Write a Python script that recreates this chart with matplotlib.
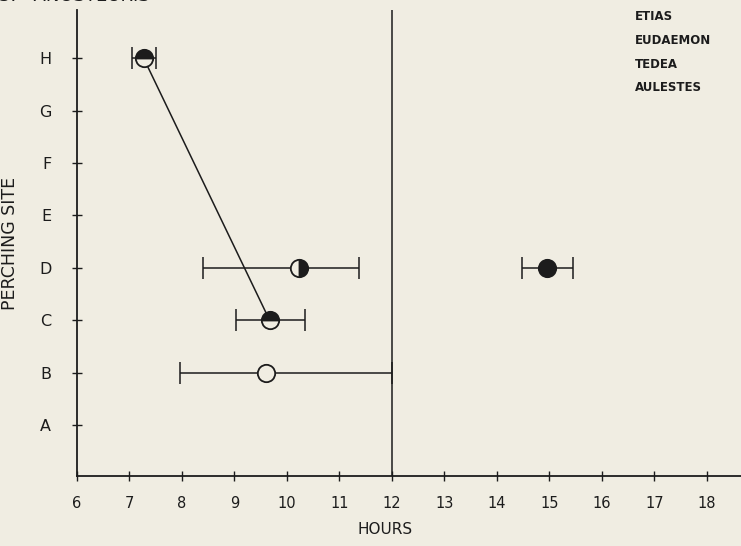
import matplotlib.pyplot as plt

# perching site index: A=1 ... H=8
sites = ['A', 'B', 'C', 'D', 'E', 'F', 'G', 'H']
hours = [6, 7, 8, 9, 10, 11, 12, 13, 14, 15, 16, 17, 18]
hour_labels = ['6', '7', '8', '9', '10', '11', '12', '13', '14', '15', '16', '17', '18']

# each point: mean hour, lower end, upper end, site
pt_h = [7.27, 7.05, 7.50, 8]
pt_d_half = [10.22, 8.40, 11.38, 4]
pt_c = [9.67, 9.02, 10.35, 3]
pt_b = [9.60, 7.96, 12.0, 2]
pt_d_full = [14.95, 14.48, 15.45, 4]

species = ['ETIAS', 'EUDAEMON', 'TEDEA', 'AULESTES']

bg = '#f0ede2'
ink = '#1c1c1c'

fig = plt.figure(figsize=(7.41, 5.46), dpi=100, facecolor=bg)
ax = fig.add_axes([77/741, (546-476)/546, 1 - 77/741, (476-10)/546])
ax.set_facecolor(bg)


def draw(p, fill):
    x, lo, hi, y = p
    ax.errorbar([x], [y], xerr=[[x - lo], [hi - x]], fmt='none', ecolor=ink,
                elinewidth=1.1, capsize=8, capthick=1.1, zorder=2)
    kw = dict(marker='o', markersize=12.5, markeredgecolor=ink,
              markeredgewidth=1.3, linestyle='none', zorder=4)
    if fill == 'none':
        ax.plot([x], [y], markerfacecolor=bg, **kw)
    elif fill == 'full':
        ax.plot([x], [y], markerfacecolor=ink, **kw)
    else:
        ax.plot([x], [y], fillstyle=fill, markerfacecolor=ink,
                markerfacecoloralt=bg, **kw)


# connecting line H -> C
ax.plot([pt_h[0], pt_c[0]], [pt_h[3], pt_c[3]], color=ink, lw=1.1, zorder=3)
ax.axvline(12, color=ink, lw=1.1, zorder=1)

draw(pt_h, 'top')
draw(pt_d_half, 'right')
draw(pt_c, 'top')
draw(pt_b, 'none')
draw(pt_d_full, 'full')

ax.set_xlim(6, 18.65)
ax.set_ylim(0.03, 8.92)
ax.set_xticks(hours)
ax.set_xticklabels(hour_labels, fontsize=10.5, color=ink)
ax.set_yticks(range(1, 9))
ax.set_yticklabels(sites, fontsize=11.5, color=ink)
ax.tick_params(axis='both', direction='inout', length=7, width=1, color=ink)
ax.tick_params(axis='y', pad=15)
ax.tick_params(axis='x', pad=11)

for s in ['top', 'right']:
    ax.spines[s].set_visible(False)
for s in ['left', 'bottom']:
    ax.spines[s].set_color(ink)
    ax.spines[s].set_linewidth(1.3)

ax.set_xlabel('HOURS', fontsize=11, color=ink)
ax.xaxis.set_label_coords(0.464, -0.098)
ax.set_ylabel('PERCHING SITE', fontsize=12.5, color=ink)
ax.yaxis.set_label_coords(-0.088, 0.50)

# cut-off headings at the top edge
fig.text(-0.002, 1.008, '3.   ANOSTEURIS', fontsize=13, color=ink, va='center')
fig.text(635/741, 1.008, 'P.  SPECIES', fontsize=9, color=ink, va='center',
         fontweight='bold')
for i, name in enumerate(species):
    fig.text(635/741, 1 - (17 + 23.5*i)/546, name, fontsize=8.5, color=ink,
             va='center', fontweight='bold')

fig.savefig('out.png', dpi=100, facecolor=bg)
